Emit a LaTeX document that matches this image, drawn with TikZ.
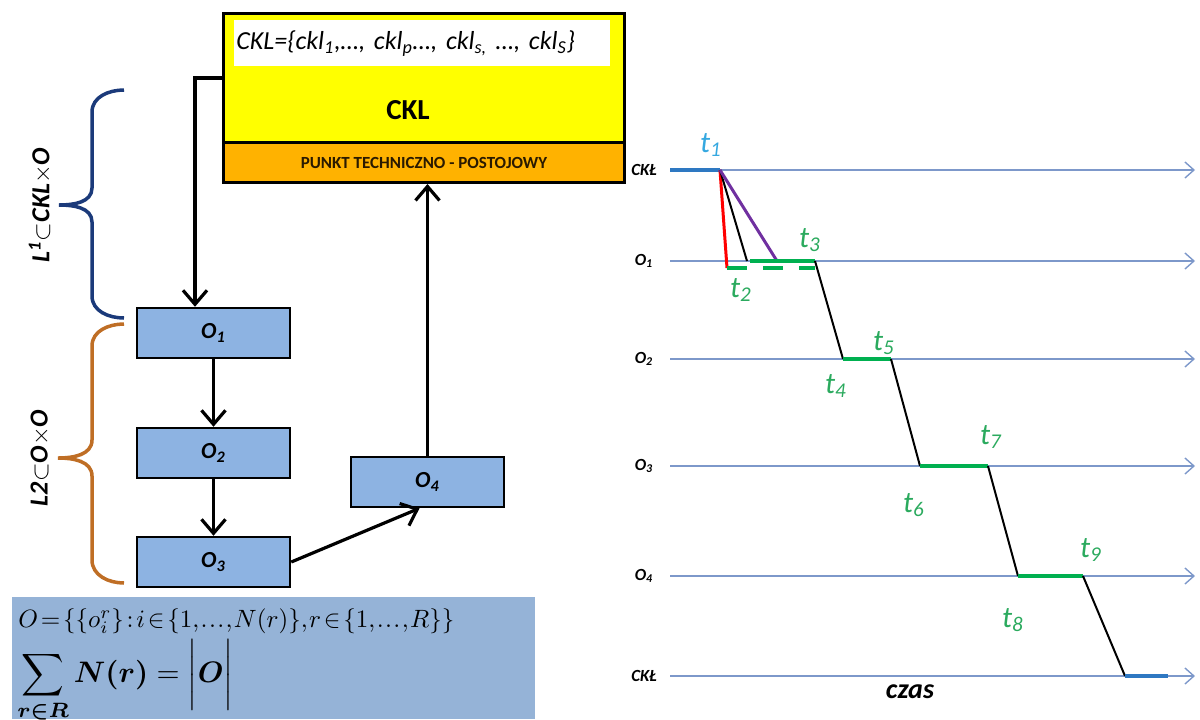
\documentclass[tikz,border=0pt]{standalone}
\usepackage{amsmath}
\usepackage{graphicx}
\usepackage{fontspec}
\setsansfont{Carlito}
\usetikzlibrary{arrows.meta,calc}
\definecolor{cklyellow}{HTML}{FFFF00}
\definecolor{ptorange}{HTML}{FFB200}
\definecolor{oblue}{HTML}{8DB3E2}
\definecolor{formblue}{HTML}{95B3D7}
\definecolor{bracenavy}{HTML}{1B3A7A}
\definecolor{bracebronze}{HTML}{BF6E25}
\definecolor{axisblue}{HTML}{7D98CA}
\definecolor{segblue}{HTML}{2E78C2}
\definecolor{tcyan}{HTML}{35A8E0}
\definecolor{tgreen}{HTML}{2BAA5E}
\definecolor{lgreen}{HTML}{00B050}
\definecolor{lpurple}{HTML}{7030A0}
\definecolor{pttext}{HTML}{2A1A00}
\begin{document}
\begin{tikzpicture}[x=0.5pt,y=-0.5pt,font=\sffamily,
  obox/.style={draw=black,line width=1.25pt,fill=oblue,minimum width=76.5pt,minimum height=25pt,inner sep=0pt,
    font=\sffamily\bfseries\itshape\fontsize{11.5}{13}\selectfont},
  flow/.style={line width=1.6pt,-{Straight Barb[length=7pt,width=12pt,line width=1.6pt]}},
  axis/.style={axisblue,line width=0.7pt,-{Straight Barb[length=4.5pt,width=8pt,line width=0.7pt]}},
  rowlab/.style={font=\sffamily\bfseries\itshape\fontsize{8.5}{9}\selectfont},
  tlab/.style={font=\sffamily\itshape\fontsize{15}{16}\selectfont,text=tgreen,inner sep=0pt},
  hold/.style={lgreen,line width=2pt},
  move/.style={black,line width=1pt},
  bracel/.style={line width=1.75pt},
  bracetext/.style={font=\sffamily\bfseries\itshape\fontsize{13}{14}\selectfont,rotate=90}]
\useasboundingbox (0,0) rectangle (1200,719);

% ---------- CKL block ----------
\node[draw=black,line width=1.5pt,fill=cklyellow,minimum width=200.5pt,minimum height=64.5pt,inner sep=0pt,anchor=north west] (cklbox) at (222,12) {};
\node[fill=white,minimum width=188pt,minimum height=23pt,inner sep=1pt,anchor=north west,align=left,text width=186pt,
  font=\sffamily\itshape\fontsize{13}{14}\selectfont] (cklset) at (234,20)
  {CKL=\{ckl\textsubscript{1},\dots, ckl\textsubscript{p}\dots, ckl\textsubscript{s,} \dots, ckl\textsubscript{S}\}};
\node[font=\sffamily\bfseries\fontsize{14.5}{16}\selectfont] (ckltitle) at (408,110) {CKL};
\node[draw=black,line width=1.5pt,fill=ptorange,minimum width=200.5pt,minimum height=20pt,inner sep=0pt,anchor=north west,
  text=pttext,font=\sffamily\bfseries\fontsize{8.5}{10}\selectfont] (ptbox) at (222,141) {PUNKT TECHNICZNO - POSTOJOWY};

% ---------- object boxes ----------
\node[obox] (o1) at (213.5,333) {O\textsubscript{1}};
\node[obox] (o2) at (213.5,453) {O\textsubscript{2}};
\node[obox] (o3) at (213.5,562) {O\textsubscript{3}};
\node[obox] (o4) at (427.5,482) {O\textsubscript{4}};

\coordinate (drop) at (195,0);
\draw[flow] (cklbox.west) -| (drop |- o1.north);
\draw[flow] (o1.south) -- (o2.north);
\draw[flow] (o2.south) -- (o3.north);
\draw[flow] (o3.east) -- ($(o4.south)+(-8,0)$);
\draw[flow] (o4.north) -- (o4.north |- ptbox.south);

% ---------- braces ----------
\draw[bracel,bracenavy] (124,90) to[out=180,in=90] (92,112) -- (92,188) to[out=270,in=0] (59,205)
  to[out=0,in=90] (92,222) -- (92,296) to[out=270,in=180] (124,318);
\node[bracetext] (l1) at (40,205) {L\textsuperscript{1}$\subset$CKL$\times$O};
\draw[bracel,bracebronze] (124,324) to[out=180,in=90] (92,346) -- (92,440) to[out=270,in=0] (58,458)
  to[out=0,in=90] (92,476) -- (92,560) to[out=270,in=180] (124,583);
\node[bracetext] (l2) at (40,458) {L2$\subset$O$\times$O};

% ---------- set definition ----------
\node[fill=formblue,minimum width=261.5pt,minimum height=61pt,inner sep=0pt,anchor=north west] (formbox) at (12,597) {};
\node[anchor=west,inner sep=0pt] (f1) at (18,621)
  {\resizebox{218pt}{!}{\thickmuskip=2mu\thinmuskip=1mu$O=\{\left\{o_i^r\right\}:i\in\{1,\ldots,N(r)\},r\in\{1,\ldots,R\}\}$}};
\node[anchor=north west,inner sep=0pt] (f2) at (17,639)
  {\resizebox{108pt}{!}{$\displaystyle\sum_{\boldsymbol{r\in R}}\boldsymbol{N(r)} = \bigg|\boldsymbol{O}\bigg|$}};

% ---------- time axes ----------
\foreach \n/\y/\t in {k1/170/CK\L, r1/261/O\textsubscript{1}, r2/359/O\textsubscript{2}, r3/466/O\textsubscript{3}, r4/576/O\textsubscript{4}, k2/676/CK\L}{
  \node[rowlab] (lab\n) at (644,\y) {\t};
  \coordinate (s\n) at (670,\y);
  \coordinate (e\n) at (1195,\y);
  \draw[axis] (s\n) -- (e\n);
}
\node[font=\sffamily\bfseries\itshape\fontsize{14}{15}\selectfont] (czas) at (910,692) {czas};

% ---------- schedule ----------
\coordinate (a1) at (720,170);
\coordinate (red) at (727,268);
\coordinate (blk) at (747,261);
\coordinate (pur) at (777,261);
\coordinate (g1s) at (750,261);
\coordinate (g1e) at (815,261);
\coordinate (d1e) at (815,268);
\coordinate (g2s) at (843,359);
\coordinate (g2e) at (891,359);
\coordinate (g3s) at (920,466);
\coordinate (g3e) at (988,466);
\coordinate (g4s) at (1018,576);
\coordinate (g4e) at (1083,576);
\coordinate (b2s) at (1125,676);
\coordinate (b2e) at (1168,676);

\draw[segblue,line width=2pt] (sk1) -- (a1);
\draw[red,line width=1.5pt] (a1) -- (red);
\draw[move] (a1) -- (blk);
\draw[lpurple,line width=1.5pt] (a1) -- (pur);
\draw[hold,dash pattern=on 10pt off 8pt] (red) -- (d1e);
\draw[hold] (g1s) -- (g1e);
\draw[move] (g1e) -- (g2s);
\draw[hold] (g2s) -- (g2e);
\draw[move] (g2e) -- (g3s);
\draw[hold] (g3s) -- (g3e);
\draw[move] (g3e) -- (g4s);
\draw[hold] (g4s) -- (g4e);
\draw[move] (g4e) -- (b2s);
\draw[segblue,line width=2pt] (b2s) -- (b2e);

\node[tlab,text=tcyan] (t1) at (711,145) {t\textsubscript{1}};
\node[tlab] (t2) at (741,290) {t\textsubscript{2}};
\node[tlab] (t3) at (810,240) {t\textsubscript{3}};
\node[tlab] (t4) at (836,386) {t\textsubscript{4}};
\node[tlab] (t5) at (884,343) {t\textsubscript{5}};
\node[tlab] (t6) at (914,505) {t\textsubscript{6}};
\node[tlab] (t7) at (991,437) {t\textsubscript{7}};
\node[tlab] (t8) at (1013,620) {t\textsubscript{8}};
\node[tlab] (t9) at (1091,550) {t\textsubscript{9}};
\end{tikzpicture}
\end{document}
